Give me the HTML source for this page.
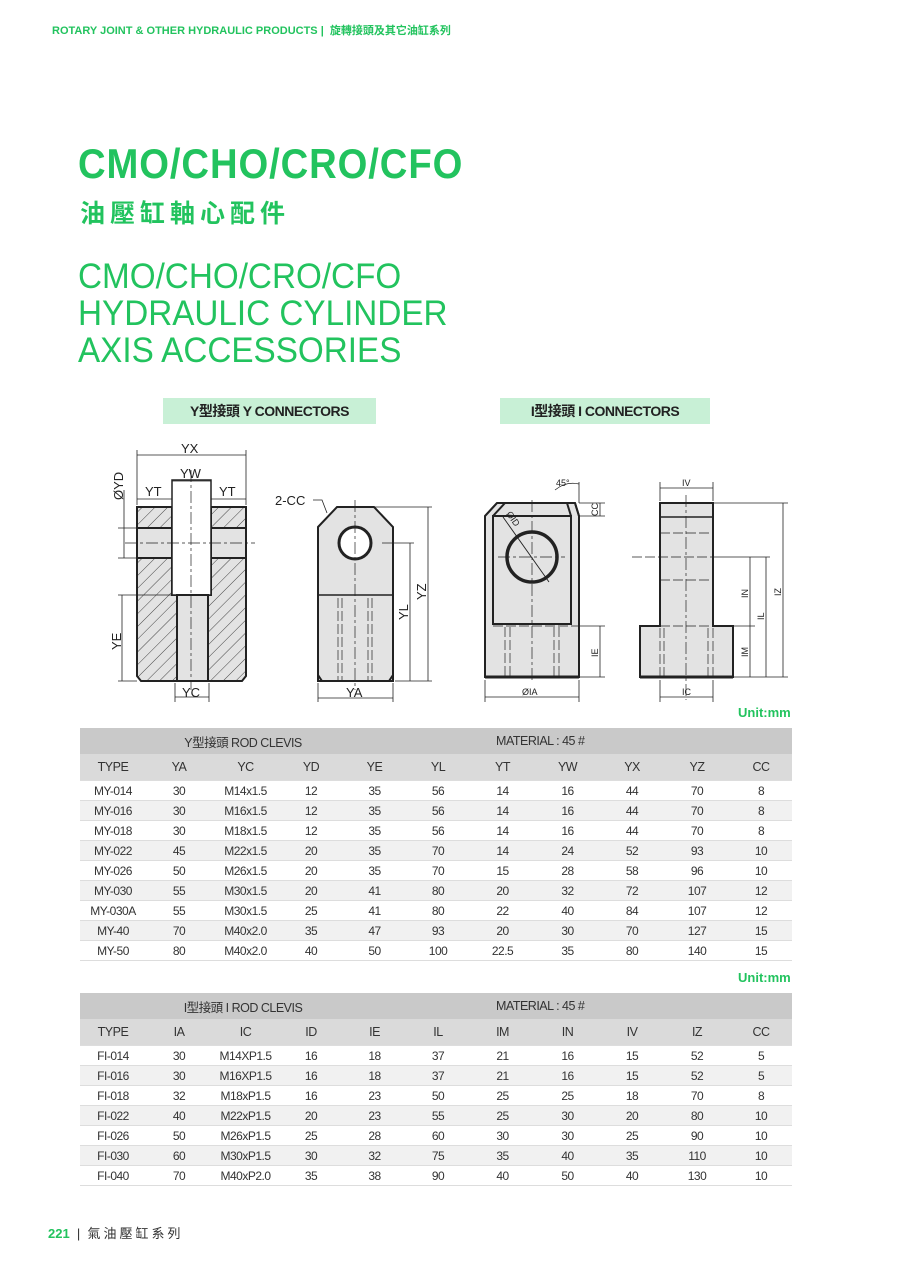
<!DOCTYPE html>
<html><head><meta charset="utf-8"><style>
body{margin:0;background:#fff;}
#p{position:relative;width:900px;height:1273px;overflow:hidden;font-family:"Liberation Sans","Noto Sans CJK TC",sans-serif;}
.g{color:#22c35e;}
.abs{position:absolute;white-space:nowrap;}
table{position:absolute;left:80px;border-collapse:collapse;font-size:12px;color:#333;table-layout:fixed;width:712px;}
td{text-align:center;padding:0;height:19px;border-bottom:1px solid #ddd;letter-spacing:-0.5px}
tr.h1 td{background:#c9c9c9;height:26px;font-size:12.5px;border:0}
tr.h2 td{background:#dadada;height:26px;font-size:12.5px}
tr.a td{background:#f1f1f1}
</style></head><body><div id="p">
<div class="abs g" style="left:52px;top:22px;font-size:11px;font-weight:bold">ROTARY JOINT &amp; OTHER HYDRAULIC PRODUCTS | &nbsp;旋轉接頭及其它油缸系列</div>
<div class="abs g" style="left:78px;top:140px;font-size:42px;font-weight:bold;letter-spacing:1px;transform:scaleX(0.91);transform-origin:0 0">CMO/CHO/CRO/CFO</div>
<div class="abs g" style="left:80px;top:194px;font-size:25px;font-weight:bold;letter-spacing:5px">油壓缸軸心配件</div>
<div class="abs g" style="left:78px;top:258px;font-size:35px;line-height:37px;transform:scaleX(0.95);transform-origin:0 0">CMO/CHO/CRO/CFO<br>HYDRAULIC CYLINDER<br>AXIS ACCESSORIES</div>
<div class="abs" style="left:163px;top:398px;width:213px;height:26px;background:#c8f0d6;text-align:center;line-height:26px;font-size:14px;font-weight:bold;color:#222;letter-spacing:-0.5px">Y型接頭 Y CONNECTORS</div>
<div class="abs" style="left:500px;top:398px;width:210px;height:26px;background:#c8f0d6;text-align:center;line-height:26px;font-size:14px;font-weight:bold;color:#222;letter-spacing:-0.5px">I型接頭 I CONNECTORS</div>

<svg class="abs" style="left:0;top:0" width="900" height="720" font-family="Liberation Sans, sans-serif" font-size="13" fill="none">
<defs><pattern id="h" width="9" height="9" patternUnits="userSpaceOnUse" patternTransform="rotate(45)"><rect width="9" height="9" fill="#e3e3e3"/><line x1="0" y1="0" x2="0" y2="9" stroke="#444" stroke-width="1"/></pattern></defs>
<g stroke="#222">
<path d="M137 507H172V595H177V681H141L137 676Z" fill="url(#h)" stroke-width="2"/>
<path d="M211 507H246V676L242 681H208V595H211Z" fill="url(#h)" stroke-width="2"/>
<rect x="137" y="528" width="35" height="30" fill="#e3e3e3" stroke-width="2"/>
<rect x="211" y="528" width="35" height="30" fill="#e3e3e3" stroke-width="2"/>
<rect x="172" y="480" width="39" height="115" fill="#fff" stroke-width="1.5"/>
<rect x="177" y="595" width="31" height="86" fill="#e3e3e3" stroke-width="2"/>
<line x1="191" y1="470" x2="191" y2="690" stroke-width="0.7" stroke-dasharray="12 3 3 3"/>
<line x1="125" y1="543" x2="255" y2="543" stroke-width="0.7" stroke-dasharray="12 3 3 3"/>
<g stroke-width="0.8">
<line x1="137" y1="450" x2="137" y2="505"/><line x1="246" y1="450" x2="246" y2="505"/><line x1="137" y1="455" x2="246" y2="455"/>
<line x1="172" y1="481" x2="211" y2="481"/><line x1="137" y1="499" x2="172" y2="499"/><line x1="211" y1="499" x2="246" y2="499"/>
<line x1="118" y1="528" x2="137" y2="528"/><line x1="118" y1="558" x2="137" y2="558"/><line x1="124" y1="490" x2="124" y2="558"/>
<line x1="118" y1="595" x2="175" y2="595"/><line x1="118" y1="681" x2="137" y2="681"/><line x1="122" y1="595" x2="122" y2="681"/>
<line x1="175" y1="683" x2="175" y2="702"/><line x1="209" y1="683" x2="209" y2="702"/><line x1="175" y1="697" x2="209" y2="697"/>
</g>
<path d="M318 527L337 507H374L393 527V681H318Z" fill="#e3e3e3" stroke-width="2"/>
<line x1="318" y1="595" x2="393" y2="595" stroke-width="1.5"/>
<path d="M318 675L322 681H389L393 675" stroke-width="2"/>
<circle cx="355" cy="543" r="16" fill="#fff" stroke-width="3"/>
<line x1="355" y1="500" x2="355" y2="690" stroke-width="0.7" stroke-dasharray="12 3 3 3"/>
<line x1="338" y1="598" x2="338" y2="680" stroke-width="0.7" stroke-dasharray="10 3"/><line x1="342" y1="598" x2="342" y2="680" stroke-width="0.7" stroke-dasharray="10 3"/>
<line x1="368" y1="598" x2="368" y2="680" stroke-width="0.7" stroke-dasharray="10 3"/><line x1="372" y1="598" x2="372" y2="680" stroke-width="0.7" stroke-dasharray="10 3"/>
<g stroke-width="0.8">
<line x1="374" y1="507" x2="432" y2="507"/><line x1="395" y1="681" x2="432" y2="681"/><line x1="382" y1="543" x2="414" y2="543"/>
<line x1="410" y1="543" x2="410" y2="681"/><line x1="428" y1="507" x2="428" y2="681"/>
<line x1="318" y1="683" x2="318" y2="702"/><line x1="393" y1="683" x2="393" y2="702"/><line x1="318" y1="698" x2="393" y2="698"/>
<path d="M313 500H322L327 513"/>
</g>
<path d="M485 516L497 503H575L579 516V677H485Z" fill="#e3e3e3" stroke-width="2"/>
<path d="M485 516L497 503M493 516L505 503M579 516L575 503M571 516L567 503" stroke-width="2"/>
<rect x="493" y="516" width="78" height="108" fill="#e3e3e3" stroke-width="2"/>
<line x1="485" y1="677" x2="579" y2="677" stroke-width="3"/>
<circle cx="532" cy="557" r="25" fill="none" stroke-width="3.5"/>
<line x1="532" y1="500" x2="532" y2="680" stroke-width="0.7" stroke-dasharray="12 3 3 3"/>
<line x1="498" y1="557" x2="565" y2="557" stroke-width="0.7" stroke-dasharray="12 3 3 3"/>
<line x1="503" y1="517" x2="549" y2="582" stroke-width="0.9"/>
<g stroke-width="0.7" stroke-dasharray="10 3"><line x1="505" y1="627" x2="505" y2="676"/><line x1="510" y1="627" x2="510" y2="676"/><line x1="554" y1="627" x2="554" y2="676"/><line x1="559" y1="627" x2="559" y2="676"/><line x1="493" y1="626" x2="579" y2="626"/></g>
<g stroke-width="0.8">
<line x1="579" y1="503" x2="605" y2="503"/><line x1="579" y1="516" x2="605" y2="516"/><line x1="600" y1="503" x2="600" y2="516"/>
<line x1="579" y1="626" x2="605" y2="626"/><line x1="579" y1="677" x2="605" y2="677"/><line x1="600" y1="626" x2="600" y2="677"/>
<line x1="485" y1="680" x2="485" y2="702"/><line x1="579" y1="680" x2="579" y2="702"/><line x1="485" y1="697" x2="579" y2="697"/>
<line x1="579" y1="482" x2="579" y2="503"/><path d="M555 490Q566 481 579 484"/>
</g>
<path d="M660 503H713V626H733V677H640V626H660Z" fill="#e3e3e3" stroke-width="2"/>
<line x1="660" y1="517" x2="713" y2="517" stroke-width="1.5"/>
<line x1="640" y1="677" x2="733" y2="677" stroke-width="3"/>
<line x1="686" y1="495" x2="686" y2="700" stroke-width="0.7" stroke-dasharray="12 3 3 3"/>
<g stroke-width="0.7" stroke-dasharray="10 3"><line x1="660" y1="533" x2="713" y2="533"/><line x1="632" y1="557" x2="713" y2="557"/><line x1="660" y1="580" x2="713" y2="580"/><line x1="660" y1="626" x2="713" y2="626"/>
<line x1="660" y1="628" x2="660" y2="676"/><line x1="664" y1="628" x2="664" y2="676"/><line x1="708" y1="628" x2="708" y2="676"/><line x1="713" y1="628" x2="713" y2="676"/></g>
<g stroke-width="0.8">
<line x1="660" y1="482" x2="660" y2="501"/><line x1="713" y1="482" x2="713" y2="501"/><line x1="660" y1="488" x2="713" y2="488"/>
<line x1="713" y1="503" x2="788" y2="503"/><line x1="713" y1="557" x2="770" y2="557"/><line x1="733" y1="626" x2="755" y2="626"/><line x1="733" y1="677" x2="788" y2="677"/>
<line x1="750" y1="557" x2="750" y2="677"/><line x1="766" y1="557" x2="766" y2="677"/><line x1="783" y1="503" x2="783" y2="677"/>
<line x1="660" y1="680" x2="660" y2="702"/><line x1="713" y1="680" x2="713" y2="702"/><line x1="660" y1="697" x2="713" y2="697"/>
</g>
</g>
<g fill="#222" font-size="13">
<text x="181" y="453">YX</text><text x="180" y="478">YW</text><text x="145" y="496">YT</text><text x="219" y="496">YT</text>
<text transform="translate(123 500) rotate(-90)">ØYD</text><text transform="translate(121 650) rotate(-90)">YE</text>
<text x="182" y="697">YC</text><text x="346" y="697">YA</text><text x="275" y="505">2-CC</text>
<text transform="translate(408 620) rotate(-90)">YL</text><text transform="translate(426 600) rotate(-90)">YZ</text>
<g font-size="9"><text x="556" y="486">45°</text><text transform="translate(598 516) rotate(-90)">CC</text><text transform="translate(506 514) rotate(55)">ØID</text>
<text transform="translate(598 657) rotate(-90)">IE</text><text x="522" y="695">ØIA</text><text x="682" y="486">IV</text><text x="682" y="695">IC</text>
<text transform="translate(748 598) rotate(-90)">IN</text><text transform="translate(764 620) rotate(-90)">IL</text><text transform="translate(781 596) rotate(-90)">IZ</text>
<text transform="translate(748 657) rotate(-90)">IM</text></g>
</g>
</svg>
<div class="abs g" style="left:738px;top:705px;font-size:13px;font-weight:bold">Unit:mm</div>
<table style="top:728px">
<colgroup><col style="width:66px"><col style="width:66px"><col style="width:67px"><col style="width:64px"><col style="width:63px"><col style="width:64px"><col style="width:65px"><col style="width:65px"><col style="width:64px"><col style="width:66px"><col style="width:62px"></colgroup>
<tr class="h1"><td colspan="5">Y型接頭 ROD CLEVIS</td><td colspan="6" style="text-align:left;padding-left:90px">MATERIAL : 45 #</td></tr>
<tr class="h2"><td>TYPE</td><td>YA</td><td>YC</td><td>YD</td><td>YE</td><td>YL</td><td>YT</td><td>YW</td><td>YX</td><td>YZ</td><td>CC</td></tr>
<tr><td>MY-014</td><td>30</td><td>M14x1.5</td><td>12</td><td>35</td><td>56</td><td>14</td><td>16</td><td>44</td><td>70</td><td>8</td></tr>
<tr class="a"><td>MY-016</td><td>30</td><td>M16x1.5</td><td>12</td><td>35</td><td>56</td><td>14</td><td>16</td><td>44</td><td>70</td><td>8</td></tr>
<tr><td>MY-018</td><td>30</td><td>M18x1.5</td><td>12</td><td>35</td><td>56</td><td>14</td><td>16</td><td>44</td><td>70</td><td>8</td></tr>
<tr class="a"><td>MY-022</td><td>45</td><td>M22x1.5</td><td>20</td><td>35</td><td>70</td><td>14</td><td>24</td><td>52</td><td>93</td><td>10</td></tr>
<tr><td>MY-026</td><td>50</td><td>M26x1.5</td><td>20</td><td>35</td><td>70</td><td>15</td><td>28</td><td>58</td><td>96</td><td>10</td></tr>
<tr class="a"><td>MY-030</td><td>55</td><td>M30x1.5</td><td>20</td><td>41</td><td>80</td><td>20</td><td>32</td><td>72</td><td>107</td><td>12</td></tr>
<tr><td>MY-030A</td><td>55</td><td>M30x1.5</td><td>25</td><td>41</td><td>80</td><td>22</td><td>40</td><td>84</td><td>107</td><td>12</td></tr>
<tr class="a"><td>MY-40</td><td>70</td><td>M40x2.0</td><td>35</td><td>47</td><td>93</td><td>20</td><td>30</td><td>70</td><td>127</td><td>15</td></tr>
<tr><td>MY-50</td><td>80</td><td>M40x2.0</td><td>40</td><td>50</td><td>100</td><td>22.5</td><td>35</td><td>80</td><td>140</td><td>15</td></tr>
</table>
<div class="abs g" style="left:738px;top:970px;font-size:13px;font-weight:bold">Unit:mm</div>
<table style="top:993px">
<colgroup><col style="width:66px"><col style="width:66px"><col style="width:67px"><col style="width:64px"><col style="width:63px"><col style="width:64px"><col style="width:65px"><col style="width:65px"><col style="width:64px"><col style="width:66px"><col style="width:62px"></colgroup>
<tr class="h1"><td colspan="5">I型接頭 I ROD CLEVIS</td><td colspan="6" style="text-align:left;padding-left:90px">MATERIAL : 45 #</td></tr>
<tr class="h2"><td>TYPE</td><td>IA</td><td>IC</td><td>ID</td><td>IE</td><td>IL</td><td>IM</td><td>IN</td><td>IV</td><td>IZ</td><td>CC</td></tr>
<tr><td>FI-014</td><td>30</td><td>M14XP1.5</td><td>16</td><td>18</td><td>37</td><td>21</td><td>16</td><td>15</td><td>52</td><td>5</td></tr>
<tr class="a"><td>FI-016</td><td>30</td><td>M16XP1.5</td><td>16</td><td>18</td><td>37</td><td>21</td><td>16</td><td>15</td><td>52</td><td>5</td></tr>
<tr><td>FI-018</td><td>32</td><td>M18xP1.5</td><td>16</td><td>23</td><td>50</td><td>25</td><td>25</td><td>18</td><td>70</td><td>8</td></tr>
<tr class="a"><td>FI-022</td><td>40</td><td>M22xP1.5</td><td>20</td><td>23</td><td>55</td><td>25</td><td>30</td><td>20</td><td>80</td><td>10</td></tr>
<tr><td>FI-026</td><td>50</td><td>M26xP1.5</td><td>25</td><td>28</td><td>60</td><td>30</td><td>30</td><td>25</td><td>90</td><td>10</td></tr>
<tr class="a"><td>FI-030</td><td>60</td><td>M30xP1.5</td><td>30</td><td>32</td><td>75</td><td>35</td><td>40</td><td>35</td><td>110</td><td>10</td></tr>
<tr><td>FI-040</td><td>70</td><td>M40xP2.0</td><td>35</td><td>38</td><td>90</td><td>40</td><td>50</td><td>40</td><td>130</td><td>10</td></tr>
</table>
<div class="abs" style="left:48px;top:1223px;font-size:13px;color:#333"><b class="g">221</b> &nbsp;|&nbsp; <span style="letter-spacing:3px">氣油壓缸系列</span></div>
</div></body></html>
